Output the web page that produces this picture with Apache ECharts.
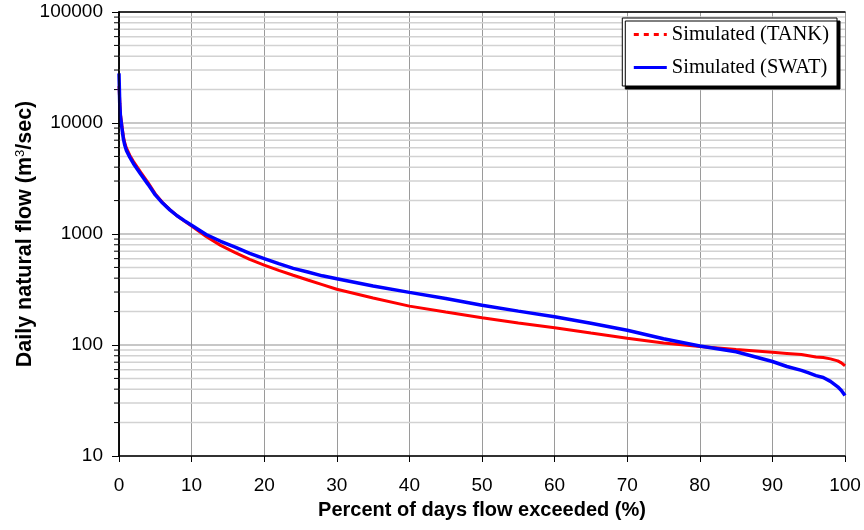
<!DOCTYPE html>
<html>
<head>
<meta charset="utf-8">
<script src="https://cdn.jsdelivr.net/npm/echarts@6/dist/echarts.min.js"></script>
<style>
  html, body { margin: 0; padding: 0; background: #fff; }
  #chart { width: 864px; height: 530px; }
</style>
</head>
<body>
<div id="chart"></div>
<script>
// percent of days flow exceeded
const pct = [0, 0.1, 0.2, 0.4, 0.6, 0.8, 1, 1.5, 2, 3, 4, 5, 6, 7, 8, 9, 10, 12, 14, 16, 18, 20,
  22, 24, 26, 28, 30, 35, 40, 45, 50, 55, 60, 65, 70, 75, 80, 85, 90, 92, 94, 95, 96, 97, 98, 99, 99.5, 100];
// daily natural flow, m3/sec
const tankFlow = [21500, 16000, 12000, 9500, 7600, 6600, 6000, 5100, 4500, 3600, 2900, 2300, 1920, 1660,
  1460, 1310, 1180, 950, 790, 680, 590, 525, 470, 425, 385, 350, 318, 265, 224, 198, 176, 158, 143, 128,
  115, 104, 97, 91, 86, 84, 82, 80, 78, 77, 75, 72, 69, 65];
const swatFlow = [28000, 15000, 11500, 9000, 7200, 6300, 5700, 4900, 4300, 3450, 2800, 2250, 1900, 1650,
  1460, 1320, 1200, 990, 860, 760, 670, 600, 540, 490, 455, 420, 395, 340, 298, 262, 228, 202, 180, 157,
  136, 114, 98, 87, 71, 64, 59, 56, 53, 51, 47, 42, 39, 35];
const decades = [10, 100, 1000, 10000];
const minorSteps = [2, 3, 4, 5, 6, 7, 8, 9];

let minorValues = [];
decades.forEach(d => minorSteps.forEach(s => minorValues.push([0, d * s])));

const chart = echarts.init(document.getElementById('chart'));

const option = {
  backgroundColor: '#fff',
  animation: false,
  grid: { left: 119, right: 19, top: 12, bottom: 74, containLabel: false, outerBoundsMode: 'none' },
  legend: {
    orient: 'vertical',
    right: 27,
    top: 18,
    padding: [6, 8, 8, 10],
    itemGap: 12,
    itemWidth: 33,
    itemHeight: 20,
    backgroundColor: '#fff',
    borderColor: '#000',
    borderWidth: 1,
    borderRadius: 0,
    shadowColor: '#000',
    shadowBlur: 0,
    shadowOffsetX: 3,
    shadowOffsetY: 3,
    textStyle: { fontFamily: 'Liberation Serif', fontSize: 20.5, color: '#000', lineHeight: 20 },
    data: [
      { name: 'Simulated (TANK)', itemStyle: { opacity: 0 }, lineStyle: { type: [5, 5], width: 3, color: '#ff0000' } },
      { name: 'Simulated (SWAT)', itemStyle: { opacity: 0 }, lineStyle: { width: 3, color: '#0000ff' } }
    ]
  },
  xAxis: [{
    type: 'value',
    min: 0,
    max: 100,
    interval: 10,
    name: 'Percent of days flow exceeded (%)',
    nameLocation: 'middle',
    nameMoveOverlap: false,
    nameGap: 44,
    nameTextStyle: { fontFamily: 'Liberation Sans', fontWeight: 'bold', fontSize: 20, color: '#000' },
    axisLine: { lineStyle: { color: '#000', width: 1.5 } },
    axisTick: { show: true, length: 6, lineStyle: { color: '#000' } },
    axisLabel: { margin: 20, fontFamily: 'Liberation Sans', fontSize: 19, color: '#000' },
    splitLine: { show: true, lineStyle: { color: '#9a9a9a', width: 1 } }
  }, {
    type: 'value',
    position: 'top',
    min: 0,
    max: 100,
    interval: 10,
    z: 5,
    axisLine: { show: true, lineStyle: { color: '#000', width: 1.5 } },
    axisTick: { show: false },
    axisLabel: { show: false },
    splitLine: { show: false }
  }],
  yAxis: [{
    type: 'log',
    logBase: 10,
    min: 10,
    max: 100000,
    name: '{t|Daily natural flow (m}{s|3}{t|/sec)}',
    nameLocation: 'middle',
    nameRotate: 90,
    nameMoveOverlap: false,
    nameGap: 82,
    nameTextStyle: {
      rich: {
        t: { fontFamily: 'Liberation Sans', fontWeight: 'bold', fontSize: 21.5, color: '#000' },
        s: { fontFamily: 'Liberation Sans', fontSize: 13, color: '#000', verticalAlign: 'top', padding: [0, 0, 10, 0] }
      }
    },
    axisLine: { show: true, lineStyle: { color: '#000', width: 1.5 } },
    axisTick: { show: true, length: 7, lineStyle: { color: '#000' } },
    axisLabel: {
      margin: 16, fontFamily: 'Liberation Sans', fontSize: 19, color: '#000',
      formatter: v => String(Math.round(v))
    },
    splitLine: { show: true, lineStyle: { color: '#b4b4b4', width: 1.5 } }
  }, {
    type: 'log',
    logBase: 10,
    min: 10,
    max: 100000,
    position: 'right',
    z: 5,
    axisLine: { show: true, lineStyle: { color: '#000', width: 1.5 } },
    axisTick: { show: false },
    axisLabel: { show: false },
    splitLine: { show: false }
  }],
  series: [
    {
      // minor log gridlines and ticks at 2..9 of each decade
      name: 'minor',
      type: 'custom',
      silent: true,
      clip: false,
      z: 1,
      encode: { x: 0, y: 1 },
      data: minorValues,
      renderItem: function (params, api) {
        const v = api.value(1);
        const p0 = api.coord([0, v]);
        const p1 = api.coord([100, v]);
        return {
          type: 'group',
          children: [
            { type: 'line', shape: { x1: p0[0], y1: p0[1], x2: p1[0], y2: p1[1] },
              style: { stroke: '#d2d2d2', lineWidth: 1.5 } },
            { type: 'line', shape: { x1: p0[0] - 5, y1: p0[1], x2: p0[0], y2: p0[1] },
              style: { stroke: '#000', lineWidth: 1 } }
          ]
        };
      }
    },
    {
      name: 'Simulated (TANK)',
      type: 'line',
      symbol: 'none',
      z: 3,
      data: pct.map((p, i) => [p, tankFlow[i]]),
      lineStyle: { color: '#ff0000', width: 3 },
      itemStyle: { color: '#ff0000' }
    },
    {
      name: 'Simulated (SWAT)',
      type: 'line',
      symbol: 'none',
      z: 4,
      data: pct.map((p, i) => [p, swatFlow[i]]),
      lineStyle: { color: '#0000ff', width: 3.5 },
      itemStyle: { color: '#0000ff' }
    }
  ]
};

chart.setOption(option);
</script>
</body>
</html>
